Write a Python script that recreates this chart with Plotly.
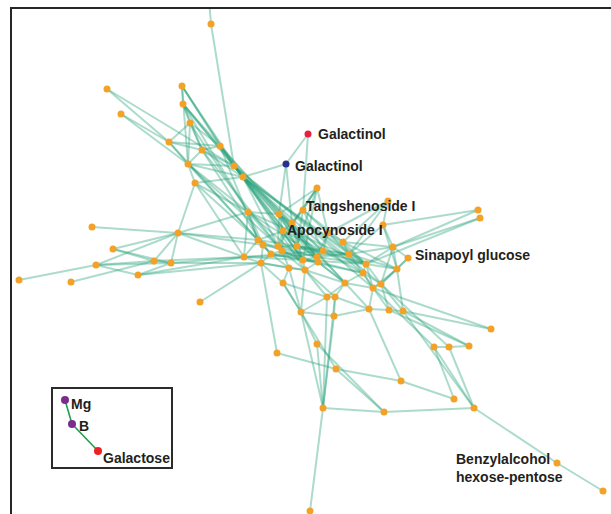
import plotly.graph_objects as go

# ---- network nodes (layout coordinates) ----
node_id = [
    "top", "a2", "a3", "a4", "a5", "a6", "a7", "a8", "a9", "a10", "a11", "a12", "a13",
    "gal_r", "gal_b", "k1", "k2", "k3", "tang", "k5", "c6", "c7", "k8", "apo",
    "k9", "k10", "k11", "k12", "k13", "k14", "k15", "k16", "k17", "k18", "k19",
    "k20", "k21", "k22", "k23", "k24", "k25", "sin", "k26", "k27", "k28", "k29",
    "k30", "k31", "k32", "k33", "k34", "k35", "k36", "k37", "k38", "k39", "k40", "k41",
    "l1", "l2", "l3", "l4", "l5", "l6", "l7", "l8", "l9", "l10",
    "c42", "c43", "c44", "c45", "c46", "c47", "c48", "c49", "c50", "c51", "c52", "c53",
    "benz", "c54", "c55", "up", "down",
]
node_x = [
    211, 107, 182, 183, 121, 190, 169, 202, 220, 188, 234, 243, 195,
    308, 286, 317, 248, 279, 303, 388, 478, 480, 292, 283,
    328, 343, 383, 258, 263, 278, 282, 297, 271, 244, 261,
    303, 317, 318, 323, 349, 393, 408, 366, 363, 397, 289,
    305, 283, 345, 373, 381, 327, 335, 301, 334, 369, 389, 403,
    92, 178, 113, 96, 154, 171, 138, 19, 71, 200,
    491, 317, 277, 336, 401, 454, 323, 384, 474, 434, 449, 469,
    557, 603, 310, 207, 307,
]
node_y = [
    24, 89, 86, 104, 114, 123, 142, 150, 146, 164, 166, 177, 183,
    134, 164, 188, 212, 214, 210, 201, 210, 218, 223, 231,
    233, 242, 225, 240, 245, 246, 251, 246, 254, 257, 263,
    260, 257, 262, 251, 254, 247, 258, 264, 273, 269, 268,
    270, 283, 283, 288, 284, 297, 297, 312, 316, 309, 310, 311,
    227, 233, 249, 265, 261, 263, 275, 280, 282, 302,
    329, 344, 353, 369, 381, 399, 408, 412, 408, 347, 347, 346,
    463, 491, 511, -25, 560,
]
node_kind = ["metabolite"] * len(node_id)
node_kind[node_id.index("gal_r")] = "galactinol_r"
node_kind[node_id.index("gal_b")] = "galactinol_b"
node_kind[node_id.index("up")] = "outside"
node_kind[node_id.index("down")] = "outside"

# ---- correlation edges ----
edge_src = [
    # upper-left cluster
    "up", "top", "a2", "a2", "a5", "a5", "a3", "a3", "a3", "a3", "a4", "a4", "a4", "a4",
    "a6", "a6", "a6", "a6", "a7", "a7", "a7", "a8", "a8", "a8", "a9", "a9", "a10",
    "a10", "a10", "a10", "a11", "a13", "a13", "gal_b", "gal_b", "gal_b", "gal_r", "gal_r",
    # upper-left into core
    "a11", "a11", "a12", "a12", "a12", "a12", "a9", "a9", "a8", "a10", "a10", "a7",
    "a6", "a12", "a11", "a13", "a13", "a4", "a12", "a11", "a9",
    "a12", "a11", "a8", "a3", "a4", "a12", "a11", "a9",
    # core
    "k1", "k1", "k1", "k1", "k1", "k1", "k1",
    "k2", "k2", "k2", "k2", "k2", "k2", "k2",
    "k3", "k3", "k3", "k3", "k3",
    "tang", "tang", "tang", "tang", "tang",
    "k5", "k5", "k5", "k5",
    "k8", "k8", "k8", "apo", "apo", "apo", "apo",
    "k9", "k9", "k9", "k9", "k10", "k10", "k10", "k11", "k11", "k11",
    "k12", "k12", "k12", "k12", "k13", "k13", "k13", "k14", "k14", "k14",
    "k15", "k15", "k15", "k16", "k16", "k16", "k17", "k17", "k17",
    "k18", "k18", "k18", "k19", "k19", "k20", "k20", "k20", "k20",
    "k21", "k21", "k21", "k22", "k22", "k22", "k23", "k23", "k24", "k24", "k24",
    "k25", "k25", "k25", "sin", "sin", "k26", "k26", "k26", "k27", "k27", "k27",
    "k28", "k28", "k29", "k29", "k30", "k30", "k30", "k31", "k31",
    "k32", "k32", "k32", "k33", "k33", "k33", "k34", "k34", "k35", "k35",
    "k36", "k36", "k37", "k38", "k39", "k40",
    "k13", "k15", "k17", "k19", "k16", "k14", "apo", "k8", "k3", "k12",
    "k21", "k23", "k22", "k20", "k24", "k26", "k27", "k10", "k9", "k30",
    "k29", "k15", "k16", "k2", "k18", "k25", "k28",
    # left cluster
    "l1", "l2", "l2", "l2", "l2", "l2", "l3", "l4", "l4", "l4", "l4", "l9",
    "l5", "l7", "l2", "l2", "l2", "l2", "l5", "l6", "l6", "l7", "l7", "l10", "l3",
    # right and lower branches
    "c6", "c7", "c6", "c7", "c42", "c42", "c51", "c51", "c52", "c52", "c53",
    "c51", "c52", "k41", "c46", "c45", "c45", "c44", "c43", "c43", "c45", "c48",
    "c49", "c50", "benz", "c48", "c48", "c48", "c48", "c48", "c46", "c45", "c55",
    "c51", "c53",
]
edge_dst = [
    "top", "a11", "a7", "a11", "a10", "a7", "a4", "a9", "a11", "a12", "a6", "a9", "a11", "a12",
    "a7", "a8", "a10", "a9", "a8", "a9", "a10", "a11", "a10", "a12", "a11", "a8", "a12",
    "a13", "a11", "k2", "a12", "a12", "k2", "a12", "k3", "k8", "gal_b", "tang",
    "k16", "k20", "k14", "k16", "k21", "k26", "k12", "k20", "k13", "k14", "k17", "k12",
    "k2", "k33", "k27", "k18", "k12", "k2", "k23", "k34", "k39",
    "k24", "k22", "k15", "a10", "a8", "k30", "k32", "k21",
    "tang", "k9", "k16", "k8", "k20", "k3", "k14",
    "k3", "k12", "k13", "k18", "k20", "k26", "k14",
    "k8", "apo", "k14", "k16", "k21",
    "k8", "k9", "k23", "k16", "k10",
    "k10", "k11", "k24", "k9",
    "apo", "k16", "k20", "k14", "k15", "k12", "k23",
    "k10", "k23", "k24", "k21", "k24", "k25", "k26", "k25", "k24", "k28",
    "k13", "k18", "k17", "k20", "k14", "k17", "k19", "k15", "k16", "k21",
    "k17", "k20", "k29", "k23", "k20", "k21", "k19", "k29", "k22",
    "k19", "k23", "k24", "k29", "k31", "k21", "k22", "k30", "k26",
    "k22", "k23", "k24", "k27", "k30", "k32", "k24", "k26", "k26", "k25", "k28",
    "sin", "k28", "k26", "k28", "k34", "k27", "k28", "k33", "k32", "k33", "k34",
    "k34", "k33", "k30", "k31", "k32", "k35", "k37", "k37", "k35",
    "k35", "k36", "k33", "k34", "k39", "k40", "k40", "k41", "k36", "k37",
    "k38", "k39", "k38", "k39", "k40", "k41",
    "k21", "k22", "k20", "k30", "k24", "k23", "k20", "k21", "k23", "k16",
    "k26", "k27", "k32", "k27", "k27", "k34", "k33", "k28", "k26", "k36",
    "k37", "k30", "k26", "k21", "k20", "k34", "k41",
    "l2", "a13", "l3", "l4", "l5", "l6", "l5", "l8", "l5", "l6", "l7", "l5",
    "l6", "l6", "k2", "k12", "k18", "k13", "k18", "k18", "k19", "k18", "k19", "k19", "l6",
    "k25", "k25", "k11", "k26", "k41", "k33", "c52", "k33", "c53", "k34", "k41",
    "c47", "c50", "c50", "c47", "c46", "c44", "k19", "k37", "c49", "c49", "c49",
    "c50", "benz", "c54", "k37", "k38", "c43", "k35", "k36", "k39", "k31", "c48",
    "c50", "k40",
]

# ---- inset: mineral / sugar link ----
inset_name = ["Mg", "B", "Galactose"]
inset_x = [65, 72, 98]
inset_y = [400, 424, 451]
inset_color = ["#7B2C8C", "#7B2C8C", "#EC2227"]
inset_src = ["Mg", "B"]
inset_dst = ["B", "Galactose"]

# ---- labelled nodes ----
label_node = ["gal_r", "gal_b", "tang", "apo", "sin", "benz"]
label_text = ["Galactinol", "Galactinol", "Tangshenoside I", "Apocynoside I",
              "Sinapoyl glucose", "Benzylalcohol<br>hexose-pentose"]
label_dx = [8, 7, 1, 2, 5, -103]
label_dy = [0, -2, 4, 1, 3, -5]

kind_color = {"metabolite": "#F3A228", "galactinol_r": "#E8203F",
              "galactinol_b": "#2A2E8E", "outside": "rgba(0,0,0,0)"}
EDGE_COLOR = "rgba(38,160,120,0.38)"
FONT = "Liberation Sans, Arial, Helvetica, sans-serif"
TEXT_COLOR = "#231F20"

pos = {n: (x, y) for n, x, y in zip(node_id, node_x, node_y)}

fig = go.Figure()

# one trace per edge so overlapping links build up colour
for s, d in zip(edge_src, edge_dst):
    (x0, y0), (x1, y1) = pos[s], pos[d]
    fig.add_trace(go.Scatter(x=[x0, x1], y=[y0, y1], mode="lines",
                             line=dict(color=EDGE_COLOR, width=2),
                             hoverinfo="skip", showlegend=False))

for kind in ["metabolite", "galactinol_r", "galactinol_b"]:
    xs = [x for x, k in zip(node_x, node_kind) if k == kind]
    ys = [y for y, k in zip(node_y, node_kind) if k == kind]
    fig.add_trace(go.Scatter(x=xs, y=ys, mode="markers",
                             marker=dict(color=kind_color[kind], size=7, line=dict(width=0)),
                             hoverinfo="skip", showlegend=False))

for n, t, dx, dy in zip(label_node, label_text, label_dx, label_dy):
    x, y = pos[n]
    fig.add_annotation(x=x, y=y, text="<b>" + t + "</b>", showarrow=False,
                       xanchor="left", yanchor="middle", align="left",
                       xshift=dx, yshift=dy,
                       font=dict(family=FONT, size=14, color=TEXT_COLOR))

# inset
ipos = {n: (x, y) for n, x, y in zip(inset_name, inset_x, inset_y)}
for s, d in zip(inset_src, inset_dst):
    (x0, y0), (x1, y1) = ipos[s], ipos[d]
    fig.add_trace(go.Scatter(x=[x0, x1], y=[y0, y1], mode="lines",
                             line=dict(color="#1E9E4E", width=1.6),
                             hoverinfo="skip", showlegend=False))
fig.add_trace(go.Scatter(x=inset_x, y=inset_y, mode="markers",
                         marker=dict(color=inset_color, size=8, line=dict(width=0)),
                         hoverinfo="skip", showlegend=False))
inset_dx = [4, 5, 3]
inset_dy = [-4, -2, -7]
for n, dx, dy in zip(inset_name, inset_dx, inset_dy):
    x, y = ipos[n]
    fig.add_annotation(x=x, y=y, text="<b>" + n + "</b>", showarrow=False,
                       xanchor="left", yanchor="middle", xshift=dx, yshift=dy,
                       font=dict(family=FONT, size=14, color=TEXT_COLOR))
fig.add_shape(type="rect", x0=52, x1=172, y0=388, y1=468,
              line=dict(color="#2B2B2B", width=2), fillcolor="rgba(0,0,0,0)")

fig.update_layout(
    width=611, height=514,
    margin=dict(l=12, r=0, t=9, b=0),
    paper_bgcolor="white", plot_bgcolor="white",
    xaxis=dict(range=[12, 611], visible=True, showgrid=False, zeroline=False,
               showticklabels=False, ticks="", showline=True, linecolor="#262626",
               linewidth=2, side="top", fixedrange=True),
    yaxis=dict(range=[514, 9], showgrid=False, zeroline=False,
               showticklabels=False, ticks="", showline=True, linecolor="#262626",
               linewidth=2, fixedrange=True),
)

fig.write_html("out.html")
